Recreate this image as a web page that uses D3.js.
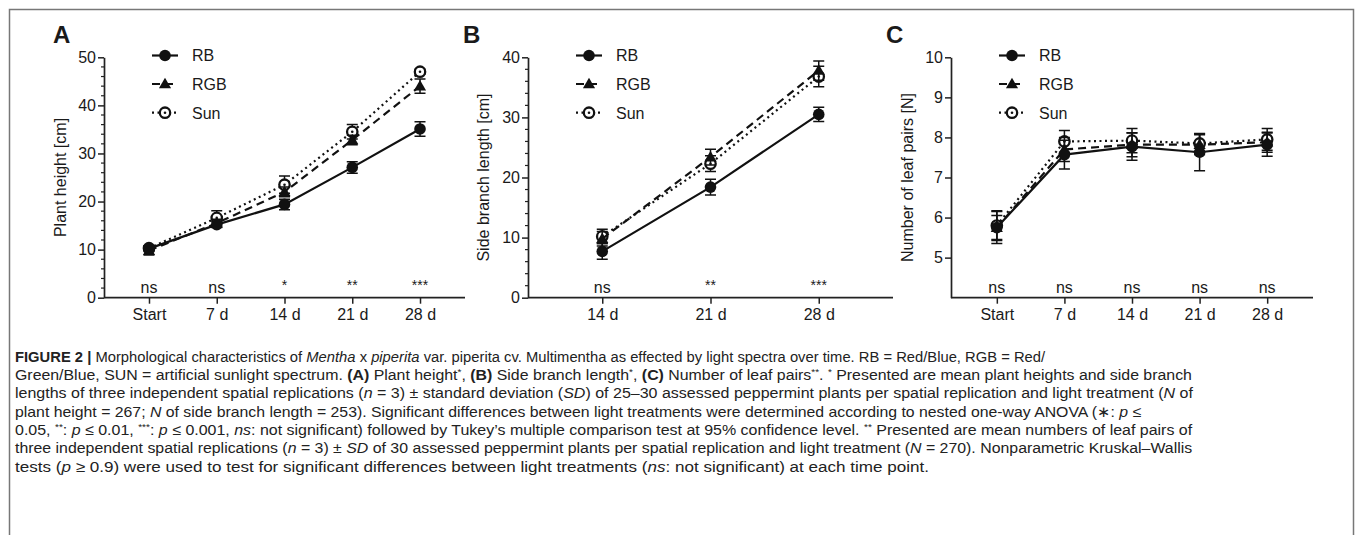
<!DOCTYPE html>
<html>
<head>
<meta charset="utf-8">
<script src="https://cdn.jsdelivr.net/npm/d3@7"></script>
<style>
  body { margin: 0; background: #fff; }
  svg { display: block; }
  text { font-family: "Liberation Sans", Arial, Helvetica, sans-serif; fill: #1a1a1a; }
  text.cap { font-family: "Liberation Sans Narrow", "Liberation Sans", Arial, sans-serif; fill: #222; }
</style>
</head>
<body>
<svg id="fig"></svg>
<script>
// categories
const daysAll = ["Start", "7 d", "14 d", "21 d", "28 d"];
const daysB = ["14 d", "21 d", "28 d"];
const seriesNames = ["RB", "RGB", "Sun"];

// A: plant height [cm]
const heightRB = [10.2, 15.2, 19.4, 27.1, 35.1];
const heightRBsd = [0.6, 0.6, 1.1, 1.2, 1.5];
const heightRGB = [9.8, 15.5, 22.0, 32.8, 44.0];
const heightRGBsd = [0.9, 0.8, 1.0, 1.0, 1.5];
const heightSun = [10.3, 16.6, 23.5, 34.5, 47.0];
const heightSunsd = [0.5, 1.5, 1.8, 1.5, 0.5];
const sigA = ["ns", "ns", "*", "**", "***"];

// B: side branch length [cm]
const branchRB = [7.7, 18.4, 30.5];
const branchRBsd = [1.3, 1.3, 1.2];
const branchRGB = [9.8, 23.4, 37.8];
const branchRGBsd = [1.2, 1.3, 1.6];
const branchSun = [10.2, 22.3, 36.8];
const branchSunsd = [1.2, 1.3, 1.7];
const sigB = ["ns", "**", "***"];

// C: number of leaf pairs
const leafRB = [5.75, 7.57, 7.77, 7.63, 7.82];
const leafRBsd = [0.4, 0.36, 0.34, 0.46, 0.29];
const leafRGB = [5.75, 7.7, 7.82, 7.82, 7.88];
const leafRGBsd = [0.3, 0.3, 0.3, 0.25, 0.25];
const leafSun = [5.8, 7.9, 7.92, 7.85, 7.95];
const leafSunsd = [0.37, 0.27, 0.3, 0.25, 0.27];
const sigC = ["ns", "ns", "ns", "ns", "ns"];

const W = 1355, H = 535;
const svg = d3.select("#fig").attr("width", W).attr("height", H);

// outer frame (open at the bottom)
svg.append("path")
  .attr("d", `M9.5,${H} V9.5 H1353.5 V${H}`)
  .attr("fill", "none").attr("stroke", "#777").attr("stroke-width", 1.5);

const yTop = 57.3, yBot = 297.7;
const fs = 16;

const panels = [
  { letter: "A", lx: 53, x0: 104, x1: 465, pad: 0.664, cats: daysAll, dom: [0, 50], ticks: [0, 10, 20, 30, 40, 50], minor: 2,
    label: "Plant height [cm]", labX: 66, sig: sigA,
    data: [[heightRB, heightRBsd], [heightRGB, heightRGBsd], [heightSun, heightSunsd]] },
  { letter: "B", lx: 463, x0: 528, x1: 893, pad: 0.686, cats: daysB, dom: [0, 40], ticks: [0, 10, 20, 30, 40], minor: 2,
    label: "Side branch length [cm]", labX: 489, sig: sigB,
    data: [[branchRB, branchRBsd], [branchRGB, branchRGBsd], [branchSun, branchSunsd]] },
  { letter: "C", lx: 886, x0: 951, x1: 1313, pad: 0.678, cats: daysAll, dom: [4, 10], ticks: [5, 6, 7, 8, 9, 10], minor: 0,
    label: "Number of leaf pairs [N]", labX: 913, sig: sigC,
    data: [[leafRB, leafRBsd], [leafRGB, leafRGBsd], [leafSun, leafSunsd]] }
];

const dashes = [null, "8,5", "2,3.5"];

function drawMarker(g, i, x, y) {
  if (i === 0) {
    g.append("circle").attr("cx", x).attr("cy", y).attr("r", 5.8).attr("fill", "#111");
  } else if (i === 1) {
    g.append("path").attr("d", d3.symbol(d3.symbolTriangle, 64)())
      .attr("transform", `translate(${x},${y + 0.8})`).attr("fill", "#111");
  } else {
    g.append("circle").attr("cx", x).attr("cy", y).attr("r", 5.2)
      .attr("fill", "#fff").attr("stroke", "#111").attr("stroke-width", 2.3);
    g.append("circle").attr("cx", x).attr("cy", y).attr("r", 1.3).attr("fill", "#111");
  }
}

panels.forEach(p => {
  const g = svg.append("g");
  const x = d3.scalePoint().domain(p.cats).range([p.x0, p.x1]).padding(p.pad);
  const y = d3.scaleLinear().domain(p.dom).range([yBot, yTop]);

  // panel letter
  g.append("text").attr("x", p.lx).attr("y", 43)
    .attr("font-size", 24).attr("font-weight", "bold").text(p.letter);

  // minor ticks
  if (p.minor) {
    const minors = d3.range(p.dom[0], p.dom[1] + 0.001, p.minor).filter(v => v % 10 !== 0);
    g.selectAll(".minor").data(minors).enter().append("line")
      .attr("x1", p.x0 - 3).attr("x2", p.x0)
      .attr("y1", d => y(d)).attr("y2", d => y(d))
      .attr("stroke", "#222").attr("stroke-width", 1.2);
  }

  // axes
  const ya = g.append("g").attr("transform", `translate(${p.x0},0)`)
    .call(d3.axisLeft(y).tickValues(p.ticks).tickFormat(d3.format("d"))
      .tickSize(6).tickSizeOuter(0).tickPadding(2));
  const xa = g.append("g").attr("transform", `translate(0,${yBot})`)
    .call(d3.axisBottom(x).tickSize(6).tickSizeOuter(0).tickPadding(5));
  xa.select(".domain").attr("d", `M${p.x0},0H${p.x1}`);
  [ya, xa].forEach(a => {
    a.select(".domain").attr("stroke", "#222").attr("stroke-width", 1.7);
    a.selectAll(".tick line").attr("stroke", "#222").attr("stroke-width", 1.5);
    a.selectAll(".tick text").attr("font-size", fs).attr("fill", "#1a1a1a")
      .attr("font-family", "'Liberation Sans', Arial, sans-serif");
  });

  // y label
  g.append("text")
    .attr("transform", `translate(${p.labX},${(yTop + yBot) / 2}) rotate(-90)`)
    .attr("text-anchor", "middle").attr("font-size", fs).text(p.label);

  // significance labels
  g.selectAll(".sig").data(p.sig).enter().append("text")
    .attr("x", (d, i) => x(p.cats[i]))
    .attr("y", d => d === "ns" ? 293 : 290)
    .attr("text-anchor", "middle").attr("font-size", d => d === "ns" ? fs : 14)
    .text(d => d);

  // series: draw Sun, RGB, RB so RB sits on top
  [2, 1, 0].forEach(si => {
    const [vals, sds] = p.data[si];
    const pts = vals.map((v, i) => ({ x: x(p.cats[i]), v, sd: sds[i] }));
    const sg = g.append("g");
    sg.append("path").datum(pts)
      .attr("d", d3.line().x(d => d.x).y(d => y(d.v)))
      .attr("fill", "none").attr("stroke", "#111").attr("stroke-width", 2.2)
      .attr("stroke-dasharray", dashes[si]);
    pts.forEach(d => {
      const yt = y(d.v + d.sd), yb = y(d.v - d.sd);
      sg.append("path")
        .attr("d", `M${d.x},${yt}V${yb}M${d.x - 5.5},${yt}H${d.x + 5.5}M${d.x - 5.5},${yb}H${d.x + 5.5}`)
        .attr("fill", "none").attr("stroke", "#111").attr("stroke-width", 1.5);
      drawMarker(sg, si, d.x, y(d.v));
    });
  });

  // legend
  const rows = [55.5, 84, 112.7];
  seriesNames.forEach((name, si) => {
    const ly = rows[si];
    const lg = g.append("g");
    lg.append("line").attr("x1", p.x0 + 48).attr("x2", p.x0 + 74)
      .attr("y1", ly).attr("y2", ly)
      .attr("stroke", "#111").attr("stroke-width", 2.2).attr("stroke-dasharray", dashes[si]);
    drawMarker(lg, si, p.x0 + 61, ly);
    lg.append("text").attr("x", p.x0 + 88).attr("y", ly + 5.8)
      .attr("font-size", fs).text(name);
  });
});

// caption lines: [segments, end x]; segment = [text, style] (b bold, i italic, s superscript)
const captionLines = [
  [[["FIGURE 2 | ", "b"], ["Morphological characteristics of "], ["Mentha", "i"], [" x "], ["piperita", "i"], [" var. piperita cv. Multimentha as effected by light spectra over time. RB = Red/Blue, RGB = Red/"]], 1046],
  [[["Green/Blue, SUN = artificial sunlight spectrum. "], ["(A)", "b"], [" Plant height"], ["*", "s"], [", "], ["(B)", "b"], [" Side branch length"], ["*", "s"], [", "], ["(C)", "b"], [" Number of leaf pairs"], ["**", "s"], [". "], ["*", "s"], [" Presented are mean plant heights and side branch"]], 1193],
  [[["lengths of three independent spatial replications ("], ["n", "i"], [" = 3) ± standard deviation ("], ["SD", "i"], [") of 25–30 assessed peppermint plants per spatial replication and light treatment ("], ["N", "i"], [" of"]], 1194],
  [[["plant height = 267; "], ["N", "i"], [" of side branch length = 253). Significant differences between light treatments were determined according to nested one-way ANOVA (∗: "], ["p", "i"], [" ≤"]], 1142],
  [[["0.05, "], ["**", "s"], [": "], ["p", "i"], [" ≤ 0.01, "], ["***", "s"], [": "], ["p", "i"], [" ≤ 0.001, "], ["ns", "i"], [": not significant) followed by Tukey’s multiple comparison test at 95% confidence level. "], ["**", "s"], [" Presented are mean numbers of leaf pairs of"]], 1193],
  [[["three independent spatial replications ("], ["n", "i"], [" = 3) ± "], ["SD", "i"], [" of 30 assessed peppermint plants per spatial replication and light treatment ("], ["N", "i"], [" = 270). Nonparametric Kruskal–Wallis"]], 1193],
  [[["tests ("], ["p", "i"], [" ≥ 0.9) were used to test for significant differences between light treatments ("], ["ns", "i"], [": not significant) at each time point."]], 930]
];

const capX = 15, capY0 = 361.7, capStep = 18.3;
captionLines.forEach(([segs, xEnd], li) => {
  const cg = svg.append("g");
  const t = cg.append("text").attr("class", "cap")
    .attr("x", 0).attr("y", 0)
    .attr("font-size", 15)
    .style("white-space", "pre");
  segs.forEach(([txt, st]) => {
    const ts = t.append("tspan").text(txt);
    if (st === "b") ts.attr("font-weight", "bold");
    if (st === "i") ts.attr("font-style", "italic");
    if (st === "s") ts.attr("font-size", 9.5).attr("baseline-shift", "super");
  });
  const len = t.node().getComputedTextLength();
  const sx = (xEnd - capX) / len;
  cg.attr("transform", `translate(${capX},${capY0 + li * capStep}) scale(${sx},1)`);
});
</script>
</body>
</html>
